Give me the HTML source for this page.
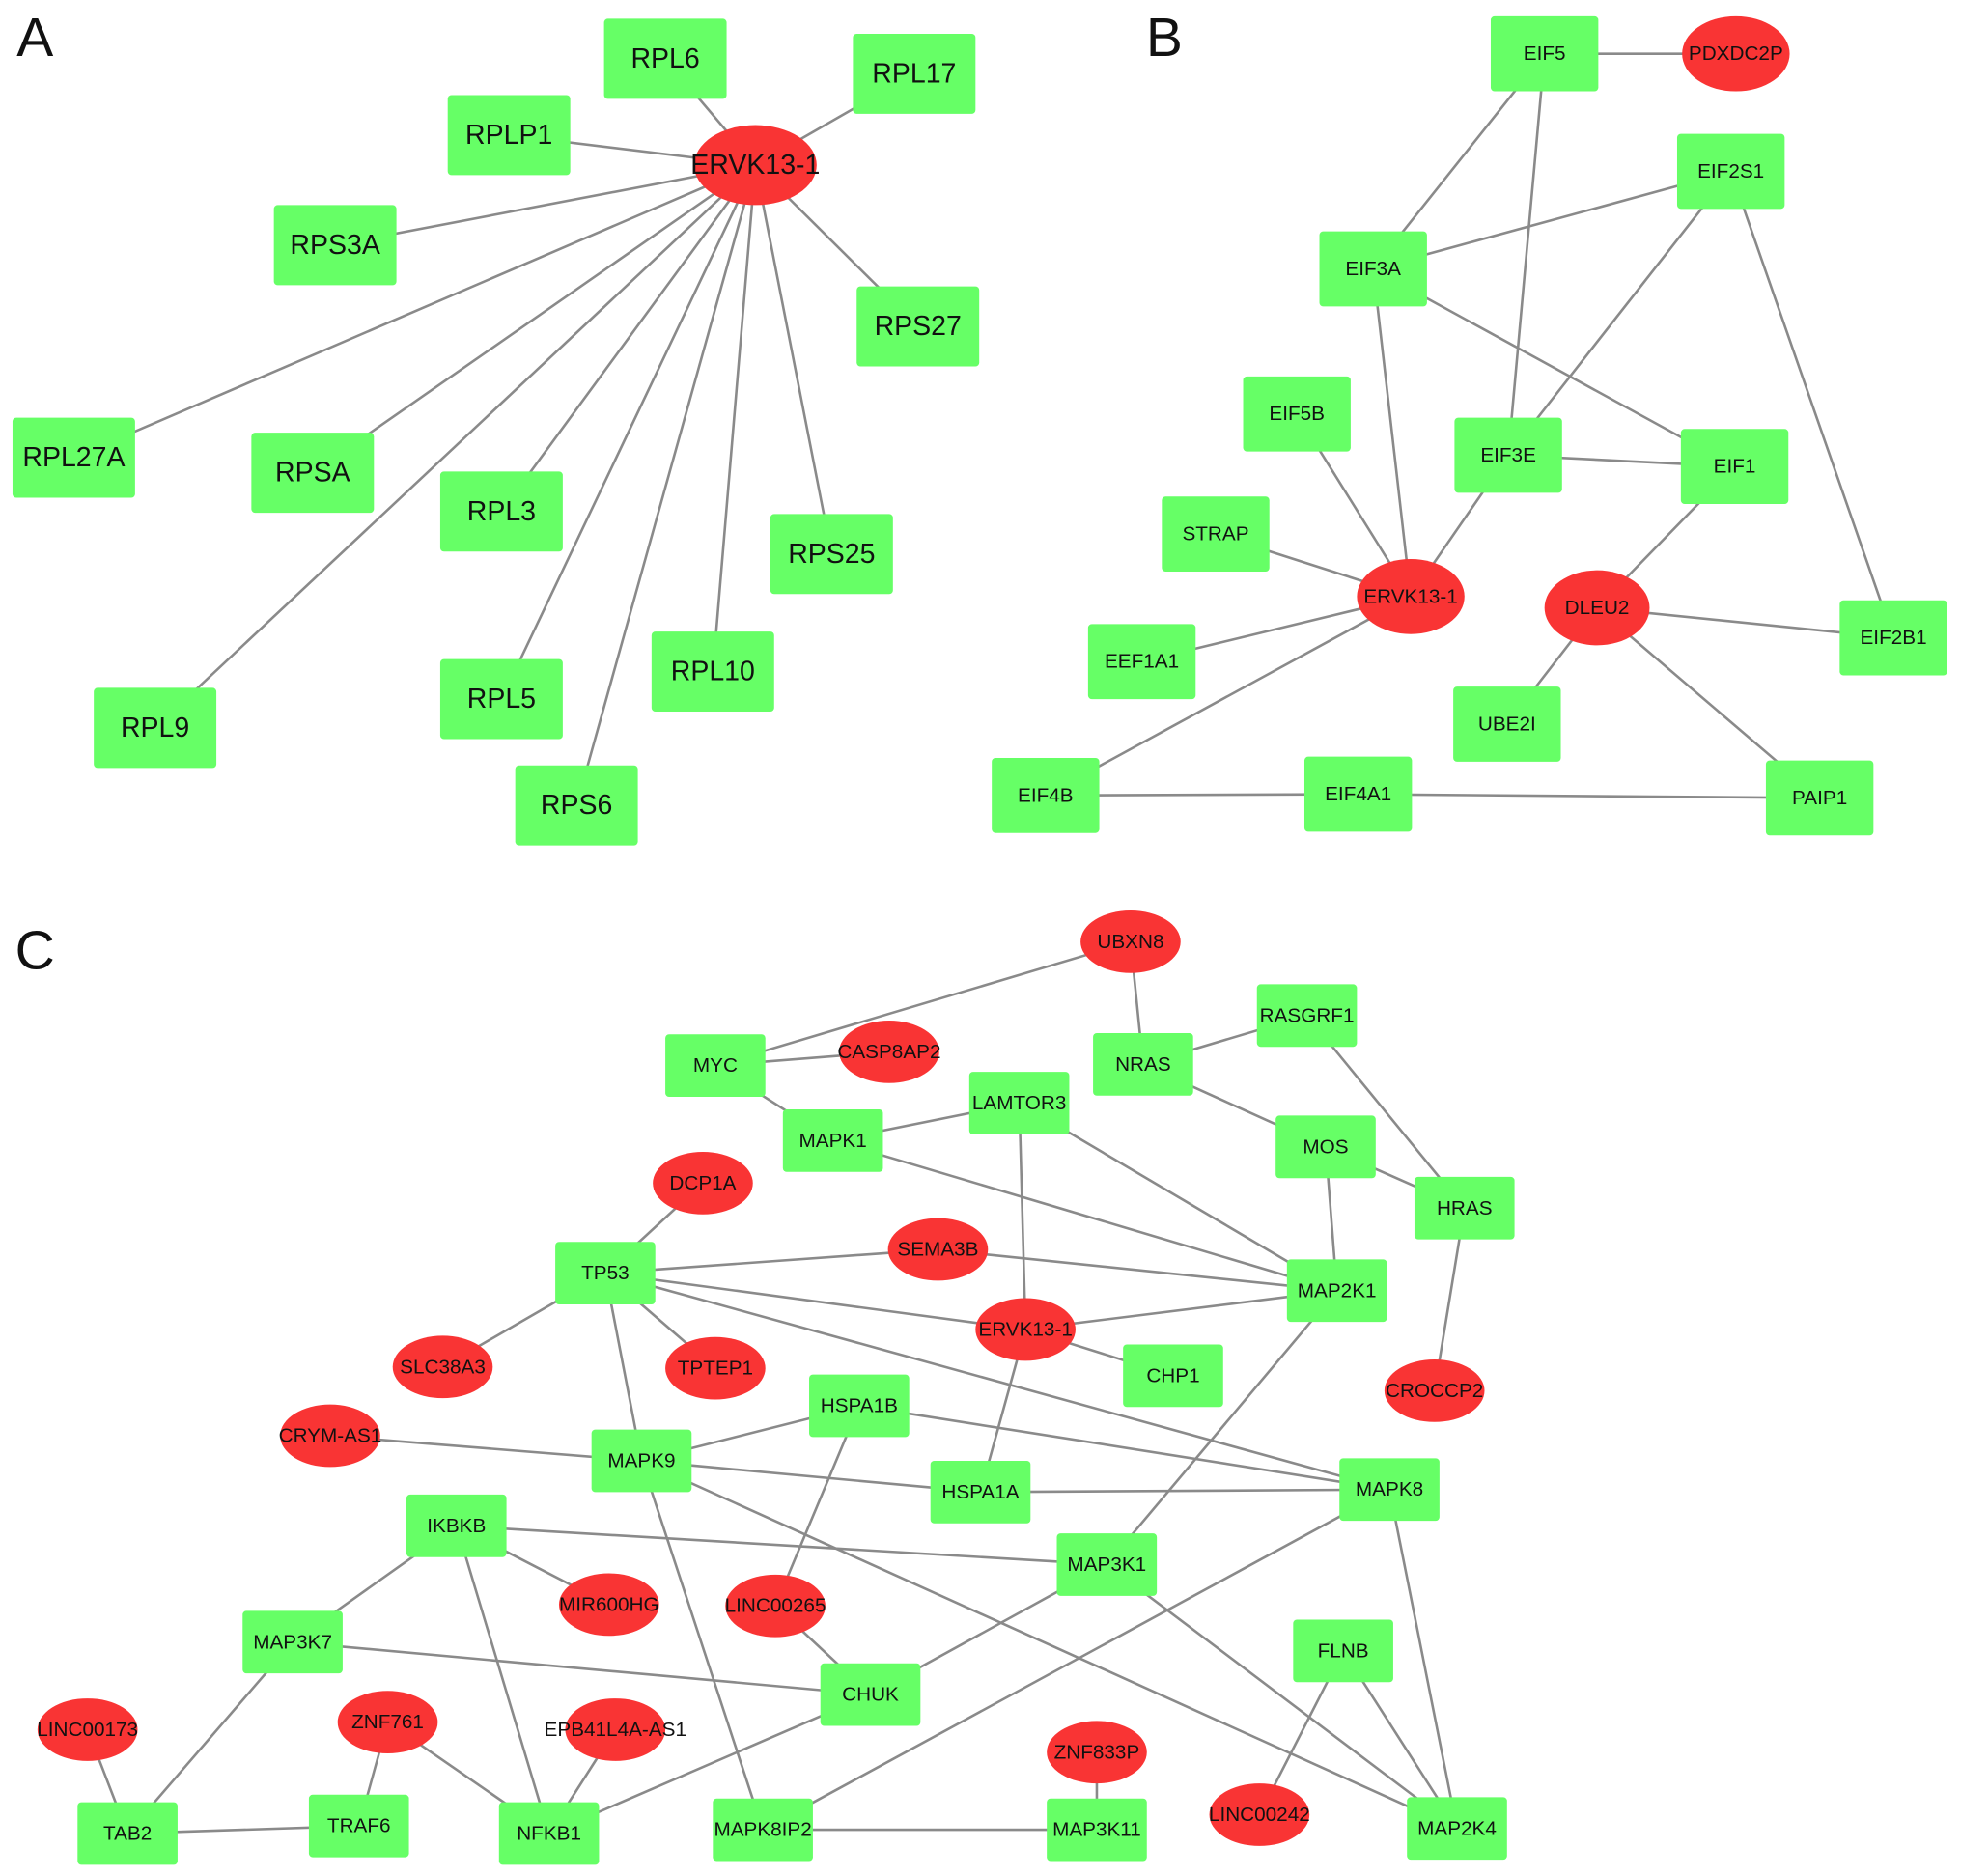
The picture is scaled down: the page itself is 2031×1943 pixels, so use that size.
<!DOCTYPE html>
<html><head><meta charset="utf-8"><style>
html,body{margin:0;padding:0;background:#fff;}
svg{display:block;}
text{font-family:"Liberation Sans Narrow","Liberation Sans",sans-serif;fill:#111;text-anchor:middle;dominant-baseline:central;}
.r{fill:#66ff66;}
.e{fill:#f93434;}
line{stroke:#8a8a8a;stroke-width:2;}
.a text{font-size:22px;}
.b text{font-size:16px;}
.c text{font-size:16px;}
.lab{font-family:"Liberation Sans",sans-serif;font-size:44px;}
</style></head><body>
<svg width="2031" height="1943" viewBox="0 0 1568 1500" preserveAspectRatio="none">
<text class="lab" x="28" y="30">A</text>
<text class="lab" x="931" y="30">B</text>
<text class="lab" x="28" y="760">C</text>

<g class="a">
<line x1="604" y1="132" x2="532" y2="47"/>
<line x1="604" y1="132" x2="731" y2="59"/>
<line x1="604" y1="132" x2="407" y2="108"/>
<line x1="604" y1="132" x2="268" y2="196"/>
<line x1="604" y1="132" x2="734" y2="261"/>
<line x1="604" y1="132" x2="59" y2="366"/>
<line x1="604" y1="132" x2="250" y2="378"/>
<line x1="604" y1="132" x2="401" y2="409"/>
<line x1="604" y1="132" x2="665" y2="443"/>
<line x1="604" y1="132" x2="570" y2="537"/>
<line x1="604" y1="132" x2="401" y2="559"/>
<line x1="604" y1="132" x2="124" y2="582"/>
<line x1="604" y1="132" x2="461" y2="644"/>
<rect class="r" x="483" y="15" width="98" height="64" rx="3"/><text x="532" y="47">RPL6</text>
<rect class="r" x="682" y="27" width="98" height="64" rx="3"/><text x="731" y="59">RPL17</text>
<rect class="r" x="358" y="76" width="98" height="64" rx="3"/><text x="407" y="108">RPLP1</text>
<rect class="r" x="219" y="164" width="98" height="64" rx="3"/><text x="268" y="196">RPS3A</text>
<rect class="r" x="685" y="229" width="98" height="64" rx="3"/><text x="734" y="261">RPS27</text>
<rect class="r" x="10" y="334" width="98" height="64" rx="3"/><text x="59" y="366">RPL27A</text>
<rect class="r" x="201" y="346" width="98" height="64" rx="3"/><text x="250" y="378">RPSA</text>
<rect class="r" x="352" y="377" width="98" height="64" rx="3"/><text x="401" y="409">RPL3</text>
<rect class="r" x="616" y="411" width="98" height="64" rx="3"/><text x="665" y="443">RPS25</text>
<rect class="r" x="521" y="505" width="98" height="64" rx="3"/><text x="570" y="537">RPL10</text>
<rect class="r" x="352" y="527" width="98" height="64" rx="3"/><text x="401" y="559">RPL5</text>
<rect class="r" x="75" y="550" width="98" height="64" rx="3"/><text x="124" y="582">RPL9</text>
<rect class="r" x="412" y="612" width="98" height="64" rx="3"/><text x="461" y="644">RPS6</text>
<ellipse class="e" cx="604" cy="132" rx="49" ry="32"/><text x="604" y="132">ERVK13-1</text>
</g>

<g class="b">
<line x1="1235" y1="43" x2="1388" y2="43"/>
<line x1="1235" y1="43" x2="1098" y2="215"/>
<line x1="1235" y1="43" x2="1206" y2="364"/>
<line x1="1384" y1="137" x2="1098" y2="215"/>
<line x1="1384" y1="137" x2="1206" y2="364"/>
<line x1="1384" y1="137" x2="1514" y2="510"/>
<line x1="1098" y1="215" x2="1387" y2="373"/>
<line x1="1098" y1="215" x2="1128" y2="477"/>
<line x1="1206" y1="364" x2="1387" y2="373"/>
<line x1="1206" y1="364" x2="1128" y2="477"/>
<line x1="1037" y1="331" x2="1128" y2="477"/>
<line x1="972" y1="427" x2="1128" y2="477"/>
<line x1="913" y1="529" x2="1128" y2="477"/>
<line x1="836" y1="636" x2="1128" y2="477"/>
<line x1="1387" y1="373" x2="1277" y2="486"/>
<line x1="1277" y1="486" x2="1514" y2="510"/>
<line x1="1277" y1="486" x2="1205" y2="579"/>
<line x1="1277" y1="486" x2="1455" y2="638"/>
<line x1="836" y1="636" x2="1086" y2="635"/>
<line x1="1086" y1="635" x2="1455" y2="638"/>
<rect class="r" x="1192" y="13" width="86" height="60" rx="3"/><text x="1235" y="43">EIF5</text>
<rect class="r" x="1341" y="107" width="86" height="60" rx="3"/><text x="1384" y="137">EIF2S1</text>
<rect class="r" x="1055" y="185" width="86" height="60" rx="3"/><text x="1098" y="215">EIF3A</text>
<rect class="r" x="994" y="301" width="86" height="60" rx="3"/><text x="1037" y="331">EIF5B</text>
<rect class="r" x="1163" y="334" width="86" height="60" rx="3"/><text x="1206" y="364">EIF3E</text>
<rect class="r" x="1344" y="343" width="86" height="60" rx="3"/><text x="1387" y="373">EIF1</text>
<rect class="r" x="929" y="397" width="86" height="60" rx="3"/><text x="972" y="427">STRAP</text>
<rect class="r" x="1471" y="480" width="86" height="60" rx="3"/><text x="1514" y="510">EIF2B1</text>
<rect class="r" x="870" y="499" width="86" height="60" rx="3"/><text x="913" y="529">EEF1A1</text>
<rect class="r" x="1162" y="549" width="86" height="60" rx="3"/><text x="1205" y="579">UBE2I</text>
<rect class="r" x="793" y="606" width="86" height="60" rx="3"/><text x="836" y="636">EIF4B</text>
<rect class="r" x="1043" y="605" width="86" height="60" rx="3"/><text x="1086" y="635">EIF4A1</text>
<rect class="r" x="1412" y="608" width="86" height="60" rx="3"/><text x="1455" y="638">PAIP1</text>
<ellipse class="e" cx="1388" cy="43" rx="43" ry="30"/><text x="1388" y="43">PDXDC2P</text>
<ellipse class="e" cx="1128" cy="477" rx="43" ry="30"/><text x="1128" y="477">ERVK13-1</text>
<ellipse class="e" cx="1277" cy="486" rx="42" ry="30"/><text x="1277" y="486">DLEU2</text>
</g>

<g class="c">
<line x1="904" y1="753" x2="572" y2="852"/>
<line x1="904" y1="753" x2="914" y2="851"/>
<line x1="572" y1="852" x2="711" y2="841"/>
<line x1="572" y1="852" x2="666" y2="912"/>
<line x1="914" y1="851" x2="1045" y2="812"/>
<line x1="914" y1="851" x2="1060" y2="917"/>
<line x1="1045" y1="812" x2="1171" y2="966"/>
<line x1="1060" y1="917" x2="1171" y2="966"/>
<line x1="1060" y1="917" x2="1069" y2="1032"/>
<line x1="815" y1="882" x2="666" y2="912"/>
<line x1="815" y1="882" x2="1069" y2="1032"/>
<line x1="815" y1="882" x2="820" y2="1063"/>
<line x1="666" y1="912" x2="1069" y2="1032"/>
<line x1="1171" y1="966" x2="1147" y2="1112"/>
<line x1="562" y1="946" x2="484" y2="1018"/>
<line x1="484" y1="1018" x2="750" y2="999"/>
<line x1="750" y1="999" x2="1069" y2="1032"/>
<line x1="484" y1="1018" x2="820" y2="1063"/>
<line x1="820" y1="1063" x2="1069" y2="1032"/>
<line x1="484" y1="1018" x2="1111" y2="1191"/>
<line x1="484" y1="1018" x2="354" y2="1093"/>
<line x1="484" y1="1018" x2="572" y2="1094"/>
<line x1="484" y1="1018" x2="513" y2="1168"/>
<line x1="820" y1="1063" x2="938" y2="1100"/>
<line x1="820" y1="1063" x2="784" y2="1193"/>
<line x1="1069" y1="1032" x2="885" y2="1251"/>
<line x1="687" y1="1124" x2="513" y2="1168"/>
<line x1="687" y1="1124" x2="1111" y2="1191"/>
<line x1="687" y1="1124" x2="620" y2="1284"/>
<line x1="264" y1="1148" x2="513" y2="1168"/>
<line x1="513" y1="1168" x2="784" y2="1193"/>
<line x1="784" y1="1193" x2="1111" y2="1191"/>
<line x1="513" y1="1168" x2="1165" y2="1462"/>
<line x1="513" y1="1168" x2="610" y2="1463"/>
<line x1="365" y1="1220" x2="885" y2="1251"/>
<line x1="365" y1="1220" x2="487" y2="1283"/>
<line x1="365" y1="1220" x2="234" y2="1313"/>
<line x1="365" y1="1220" x2="439" y2="1466"/>
<line x1="885" y1="1251" x2="696" y2="1355"/>
<line x1="885" y1="1251" x2="1165" y2="1462"/>
<line x1="1111" y1="1191" x2="610" y2="1463"/>
<line x1="1111" y1="1191" x2="1165" y2="1462"/>
<line x1="620" y1="1284" x2="696" y2="1355"/>
<line x1="234" y1="1313" x2="696" y2="1355"/>
<line x1="234" y1="1313" x2="102" y2="1466"/>
<line x1="696" y1="1355" x2="439" y2="1466"/>
<line x1="1074" y1="1320" x2="1007" y2="1451"/>
<line x1="1074" y1="1320" x2="1165" y2="1462"/>
<line x1="70" y1="1383" x2="102" y2="1466"/>
<line x1="102" y1="1466" x2="287" y2="1460"/>
<line x1="310" y1="1377" x2="287" y2="1460"/>
<line x1="310" y1="1377" x2="439" y2="1466"/>
<line x1="492" y1="1383" x2="439" y2="1466"/>
<line x1="877" y1="1401" x2="877" y2="1463"/>
<line x1="610" y1="1463" x2="877" y2="1463"/>

<rect class="r" x="1005" y="787" width="80" height="50" rx="3"/><text x="1045" y="812">RASGRF1</text>
<rect class="r" x="532" y="827" width="80" height="50" rx="3"/><text x="572" y="852">MYC</text>
<rect class="r" x="874" y="826" width="80" height="50" rx="3"/><text x="914" y="851">NRAS</text>
<rect class="r" x="775" y="857" width="80" height="50" rx="3"/><text x="815" y="882">LAMTOR3</text>
<rect class="r" x="626" y="887" width="80" height="50" rx="3"/><text x="666" y="912">MAPK1</text>
<rect class="r" x="1020" y="892" width="80" height="50" rx="3"/><text x="1060" y="917">MOS</text>
<rect class="r" x="1131" y="941" width="80" height="50" rx="3"/><text x="1171" y="966">HRAS</text>
<rect class="r" x="444" y="993" width="80" height="50" rx="3"/><text x="484" y="1018">TP53</text>
<rect class="r" x="1029" y="1007" width="80" height="50" rx="3"/><text x="1069" y="1032">MAP2K1</text>
<rect class="r" x="898" y="1075" width="80" height="50" rx="3"/><text x="938" y="1100">CHP1</text>
<rect class="r" x="647" y="1099" width="80" height="50" rx="3"/><text x="687" y="1124">HSPA1B</text>
<rect class="r" x="473" y="1143" width="80" height="50" rx="3"/><text x="513" y="1168">MAPK9</text>
<rect class="r" x="744" y="1168" width="80" height="50" rx="3"/><text x="784" y="1193">HSPA1A</text>
<rect class="r" x="1071" y="1166" width="80" height="50" rx="3"/><text x="1111" y="1191">MAPK8</text>
<rect class="r" x="325" y="1195" width="80" height="50" rx="3"/><text x="365" y="1220">IKBKB</text>
<rect class="r" x="845" y="1226" width="80" height="50" rx="3"/><text x="885" y="1251">MAP3K1</text>
<rect class="r" x="194" y="1288" width="80" height="50" rx="3"/><text x="234" y="1313">MAP3K7</text>
<rect class="r" x="1034" y="1295" width="80" height="50" rx="3"/><text x="1074" y="1320">FLNB</text>
<rect class="r" x="656" y="1330" width="80" height="50" rx="3"/><text x="696" y="1355">CHUK</text>
<rect class="r" x="62" y="1441" width="80" height="50" rx="3"/><text x="102" y="1466">TAB2</text>
<rect class="r" x="247" y="1435" width="80" height="50" rx="3"/><text x="287" y="1460">TRAF6</text>
<rect class="r" x="399" y="1441" width="80" height="50" rx="3"/><text x="439" y="1466">NFKB1</text>
<rect class="r" x="570" y="1438" width="80" height="50" rx="3"/><text x="610" y="1463">MAPK8IP2</text>
<rect class="r" x="837" y="1438" width="80" height="50" rx="3"/><text x="877" y="1463">MAP3K11</text>
<rect class="r" x="1125" y="1437" width="80" height="50" rx="3"/><text x="1165" y="1462">MAP2K4</text>

<ellipse class="e" cx="904" cy="753" rx="40" ry="25"/><text x="904" y="753">UBXN8</text>
<ellipse class="e" cx="711" cy="841" rx="40" ry="25"/><text x="711" y="841">CASP8AP2</text>
<ellipse class="e" cx="562" cy="946" rx="40" ry="25"/><text x="562" y="946">DCP1A</text>
<ellipse class="e" cx="750" cy="999" rx="40" ry="25"/><text x="750" y="999">SEMA3B</text>
<ellipse class="e" cx="820" cy="1063" rx="40" ry="25"/><text x="820" y="1063">ERVK13-1</text>
<ellipse class="e" cx="354" cy="1093" rx="40" ry="25"/><text x="354" y="1093">SLC38A3</text>
<ellipse class="e" cx="572" cy="1094" rx="40" ry="25"/><text x="572" y="1094">TPTEP1</text>
<ellipse class="e" cx="1147" cy="1112" rx="40" ry="25"/><text x="1147" y="1112">CROCCP2</text>
<ellipse class="e" cx="264" cy="1148" rx="40" ry="25"/><text x="264" y="1148">CRYM-AS1</text>
<ellipse class="e" cx="487" cy="1283" rx="40" ry="25"/><text x="487" y="1283">MIR600HG</text>
<ellipse class="e" cx="620" cy="1284" rx="40" ry="25"/><text x="620" y="1284">LINC00265</text>
<ellipse class="e" cx="70" cy="1383" rx="40" ry="25"/><text x="70" y="1383">LINC00173</text>
<ellipse class="e" cx="310" cy="1377" rx="40" ry="25"/><text x="310" y="1377">ZNF761</text>
<ellipse class="e" cx="492" cy="1383" rx="40" ry="25"/><text x="492" y="1383">EPB41L4A-AS1</text>
<ellipse class="e" cx="877" cy="1401" rx="40" ry="25"/><text x="877" y="1401">ZNF833P</text>
<ellipse class="e" cx="1007" cy="1451" rx="40" ry="25"/><text x="1007" y="1451">LINC00242</text>
</g>
</svg>
</body></html>
